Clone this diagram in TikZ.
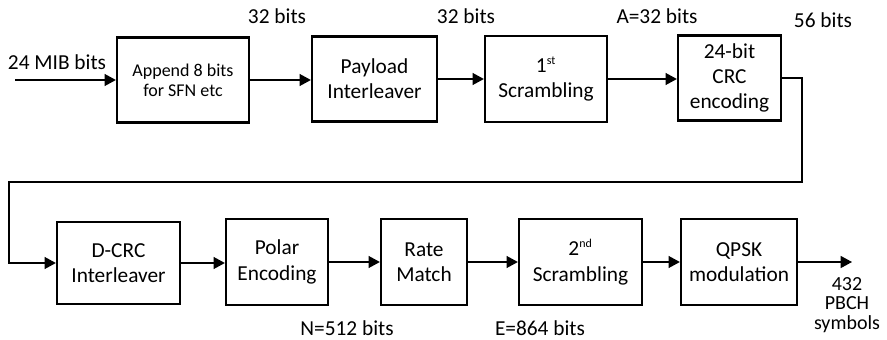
\documentclass[tikz,border=0pt]{standalone}
\usepackage{fontspec}
\setmainfont{Carlito}
\usetikzlibrary{arrows.meta}
\newcommand{\ordsup}[1]{\textsuperscript{\fontsize{9}{9}\selectfont #1}}
\tikzset{
  blk/.style n args={2}{draw, line width=1.7pt, align=center, inner sep=0pt,
    minimum width=#1*0.75pt, minimum height=#2*0.75pt, font=\fontsize{16}{19}\selectfont},
  arr/.style={line width=1pt, -{Triangle[length=8.5pt,width=9pt]}},
  lbl/.style={inner sep=0pt, align=center, font=\fontsize{16}{19}\selectfont}
}
\begin{document}
\begin{tikzpicture}[x=0.75pt,y=-0.75pt]
  \useasboundingbox (0,0) rectangle (887,339);
  \node[blk={132}{85}, font=\fontsize{13.5}{15}\selectfont] (app) at (183,80) {Append 8 bits\\for SFN etc};
  \node[blk={125}{85}] (pay) at (374.5,79) {Payload\\Interleaver};
  \node[blk={122}{86}] (scr1) at (546,79) {1\ordsup{st}\\Scrambling};
  \node[blk={103}{85}] (crc) at (729.5,78) {24-bit\\CRC\\encoding};
  \node[blk={123}{82}] (dcrc) at (118.5,263) {D-CRC\\Interleaver};
  \node[blk={102}{86}] (pol) at (277,262) {Polar\\Encoding};
  \node[blk={86}{86}] (rate) at (424,262) {Rate\\Match};
  \node[blk={123}{86}] (scr2) at (580.5,262) {2\ordsup{nd}\\Scrambling};
  \node[blk={116}{86}] (qpsk) at (739,262) {QPSK\\modulation};
  \node[lbl] (mib) at (57,62) {24 MIB bits};
  \node[lbl] (b32a) at (277,16) {32 bits};
  \node[lbl] (b32b) at (466,16) {32 bits};
  \node[lbl] (b32c) at (657,16) {A=32 bits};
  \node[lbl] (b56) at (823,20) {56 bits};
  \node[lbl] (n512) at (347,328) {N=512 bits};
  \node[lbl] (e864) at (540,328) {E=864 bits};
  \node[lbl, font=\fontsize{15}{14.5}\selectfont] (sym) at (847,305) {432\\PBCH\\symbols};
  \coordinate (in) at (15,80);
  \coordinate (tr) at (802,182);
  \coordinate (bl) at (9,182);
  \coordinate (out) at (852,262);
  \draw[arr] (in) -- (app.west);
  \draw[arr] (app.east) -- (app.east -| pay.west);
  \draw[arr] (pay.east) -- (pay.east -| scr1.west);
  \draw[arr] (scr1.east) -- (scr1.east -| crc.west);
  \draw[arr] (crc.east) -| (tr) -- (bl) |- (dcrc.west);
  \draw[arr] (dcrc.east) -- (dcrc.east -| pol.west);
  \draw[arr] (pol.east) -- (pol.east -| rate.west);
  \draw[arr] (rate.east) -- (rate.east -| scr2.west);
  \draw[arr] (scr2.east) -- (scr2.east -| qpsk.west);
  \draw[arr] (qpsk.east) -- (out);
\end{tikzpicture}
\end{document}
